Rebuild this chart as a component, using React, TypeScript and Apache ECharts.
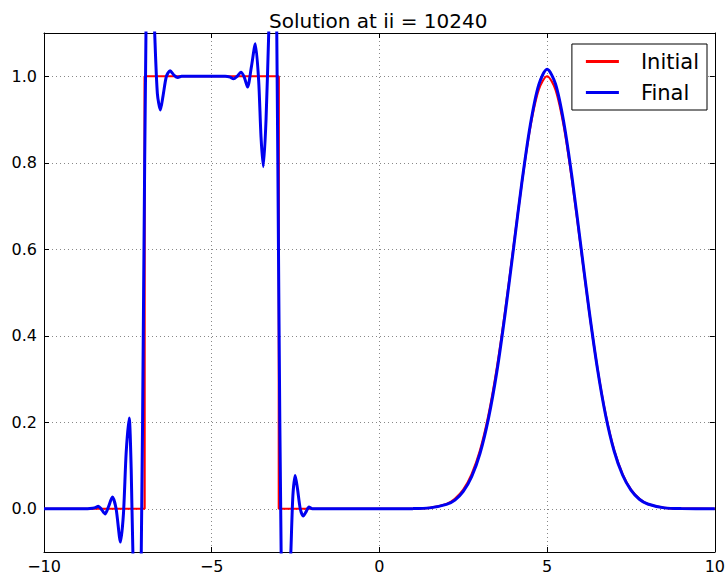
import React, { useEffect, useRef } from "react";
import * as echarts from "echarts";

// Initial condition: square pulse part
const initialSquareX = [-10, -7, -7, -3, -3, 1];
const initialSquareY = [0, 0, 1, 1, 0, 0];

// Gaussian part (both series share x positions)
const gaussX = [1, 1.5, 2, 2.25, 2.5, 2.75, 3, 3.25, 3.5, 3.75, 4, 4.25, 4.5, 4.75, 5, 5.25, 5.5, 5.75, 6, 6.25, 6.5, 6.75, 7, 7.25, 7.5, 7.75, 8, 8.5, 9, 10];
const initialGaussY = [0.0003, 0.002, 0.011, 0.023, 0.044, 0.08, 0.135, 0.216, 0.325, 0.458, 0.607, 0.755, 0.883, 0.969, 1.0, 0.969, 0.883, 0.755, 0.607, 0.458, 0.325, 0.216, 0.135, 0.08, 0.044, 0.023, 0.011, 0.002, 0.0003, 0];
const finalGaussY = [0.0003, 0.002, 0.01, 0.02, 0.04, 0.074, 0.128, 0.208, 0.316, 0.452, 0.603, 0.756, 0.888, 0.98, 1.016, 0.982, 0.892, 0.762, 0.611, 0.46, 0.324, 0.214, 0.133, 0.078, 0.043, 0.022, 0.011, 0.002, 0.0003, 0];

// Final solution: oscillating square pulse part
const finalWaveX = [-10, -9, -8.7, -8.55, -8.45, -8.38, -8.3, -8.18, -8.08, -7.96, -7.85, -7.72, -7.63, -7.55, -7.46, -7.4, -7.35, -7.28, -7.22, -7.16, -7.1, -7.03, -6.96, -6.9, -6.83, -6.76, -6.7, -6.62, -6.53, -6.45, -6.35, -6.24, -6.12, -6.01, -5.9, -5.5, -4.6, -4.45, -4.35, -4.24, -4.13, -4.03, -3.93, -3.82, -3.7, -3.6, -3.53, -3.46, -3.38, -3.3, -3.24, -3.17, -3.1, -3.06, -3.0, -2.93, -2.86, -2.78, -2.7, -2.64, -2.58, -2.51, -2.44, -2.36, -2.27, -2.18, -2.1, -2.0, -1.5, 1.0];
const finalWaveY = [0, 0, 0, 0.001, 0.003, 0.006, 0.0, -0.012, 0.004, 0.027, 0.0, -0.077, -0.01, 0.13, 0.21, 0.09, -0.1, -0.22, -0.26, -0.2, -0.1, 0.5, 1.1, 1.24, 1.29, 1.24, 1.1, 0.96, 0.922, 0.955, 1.0, 1.013, 1.002, 0.997, 1.0, 1.0, 1.0, 0.998, 0.994, 1.0, 1.009, 0.998, 0.975, 1.02, 1.075, 0.99, 0.86, 0.791, 0.9, 1.1, 1.26, 1.3, 1.22, 1.1, 0.5, -0.1, -0.26, -0.3, -0.22, -0.1, 0.03, 0.077, 0.045, 0.0, -0.017, -0.006, 0.004, 0.0, 0.0, 0.0];

const xTicks = { min: -10, max: 10, interval: 5 };
const yRange = { min: -0.1, max: 1.1 };

const titleText = "Solution at ii = 10240";
const seriesNames = ["Initial", "Final"];

const RED = "#ff0000";
const BLUE = "#0000f0";
const FONT = "DejaVu Sans";

const zip = (xs: number[], ys: number[]) => xs.map((x, i) => [x, ys[i]]);

export default function App() {
  const ref = useRef<HTMLDivElement>(null);
  useEffect(() => {
    if (!ref.current) return;
    const chart = echarts.init(ref.current, undefined, { renderer: "svg" });
    const gridLine = { show: true, lineStyle: { color: "#888", type: [1, 3] as any, width: 1 } };
    const yFmt = (v: number) =>
      Math.abs(v - yRange.min) < 1e-6 || Math.abs(v - yRange.max) < 1e-6 ? "" : v.toFixed(1);
    const xFmt = (v: number) => (v < 0 ? "\u2212" + Math.abs(v) : String(v));
    const axisLine = { show: true, onZero: false, lineStyle: { color: "#000", width: 1 } };
    const tick = { show: true, inside: true, length: 5, lineStyle: { color: "#000" } };
    chart.setOption({
      animation: false,
      backgroundColor: "#fff",
      title: {
        text: titleText,
        left: 264,
        top: 6,
        textStyle: { fontFamily: FONT, fontSize: 20, fontWeight: "normal", color: "#000" },
      },
      legend: {
        data: seriesNames,
        orient: "vertical",
        right: 21,
        top: 44,
        padding: [7, 8, 7, 14],
        itemGap: 10,
        itemWidth: 33,
        itemHeight: 3,
        icon: "rect",
        borderColor: "#000",
        borderWidth: 1,
        backgroundColor: "#fff",
        textStyle: { fontFamily: FONT, fontSize: 21, lineHeight: 20, color: "#000", padding: [0, 0, 0, 17] },
      },
      grid: { left: 44, right: 11, top: 33, bottom: 23, containLabel: false },
      xAxis: [
        {
          type: "value",
          ...xTicks,
          axisLine,
          axisTick: tick,
          splitLine: gridLine,
          axisLabel: { fontFamily: FONT, fontSize: 16, color: "#000", margin: 6, formatter: xFmt },
        },
        {
          type: "value",
          position: "top",
          ...xTicks,
          axisLine,
          axisTick: tick,
          splitLine: { show: false },
          axisLabel: { show: false },
        },
      ],
      yAxis: [
        {
          type: "value",
          ...yRange,
          splitNumber: 6,
          axisLine,
          axisTick: tick,
          splitLine: gridLine,
          axisLabel: { fontFamily: FONT, fontSize: 16, color: "#000", margin: 7, formatter: yFmt, showMinLabel: false, showMaxLabel: false },
        },
        {
          type: "value",
          position: "right",
          ...yRange,
          splitNumber: 6,
          axisLine,
          axisTick: tick,
          splitLine: { show: false },
          axisLabel: { show: false },
        },
      ],
      series: [
        {
          name: "Initial",
          type: "line",
          data: zip(initialSquareX, initialSquareY),
          showSymbol: false,
          lineStyle: { color: RED, width: 2.2 },
          itemStyle: { color: RED },
          z: 2,
        },
        {
          name: "Initial",
          type: "line",
          data: zip(gaussX, initialGaussY),
          smooth: 0.3,
          showSymbol: false,
          lineStyle: { color: RED, width: 2.2 },
          itemStyle: { color: RED },
          z: 2,
        },
        {
          name: "Final",
          type: "line",
          data: zip(finalWaveX, finalWaveY),
          smooth: 0.25,
          showSymbol: false,
          lineStyle: { color: BLUE, width: 3 },
          itemStyle: { color: BLUE },
          z: 3,
        },
        {
          name: "Final",
          type: "line",
          data: zip(gaussX, finalGaussY),
          smooth: 0.3,
          showSymbol: false,
          lineStyle: { color: BLUE, width: 3 },
          itemStyle: { color: BLUE },
          z: 3,
        },
      ],
    });
    return () => chart.dispose();
  }, []);
  return <div ref={ref} style={{ position: "absolute", left: 0, top: 0, width: 728, height: 575 }} />;
}
